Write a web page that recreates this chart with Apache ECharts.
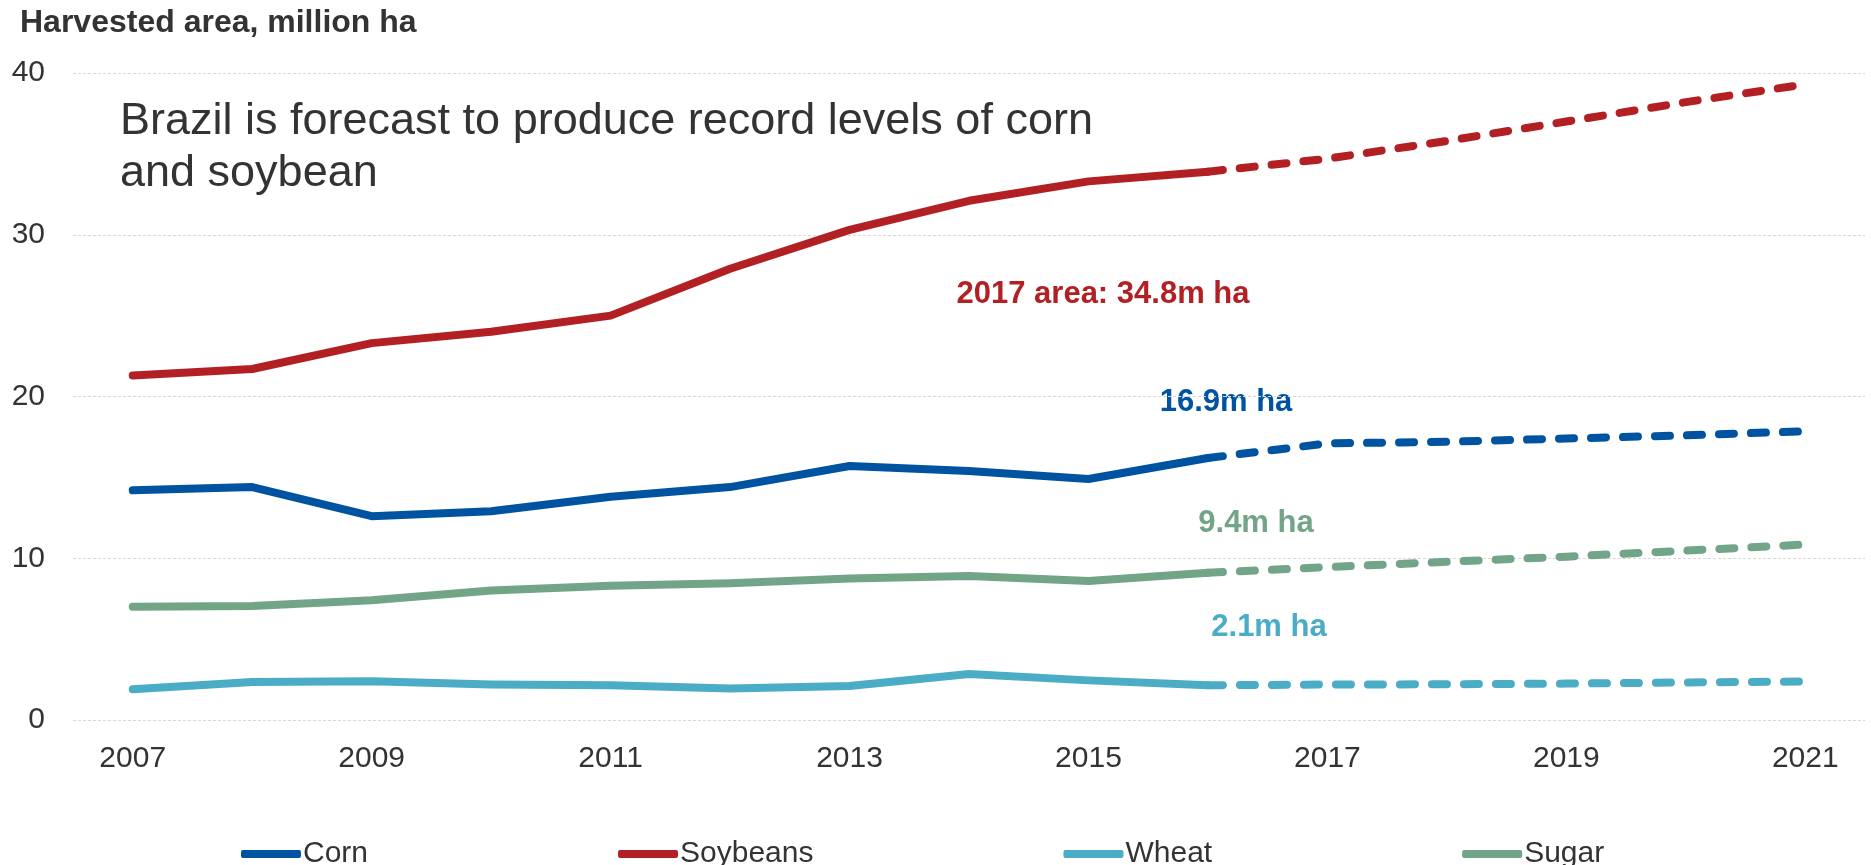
<!DOCTYPE html>
<html>
<head>
<meta charset="utf-8">
<script src="https://cdn.jsdelivr.net/npm/echarts@6/dist/echarts.min.js"></script>
<style>
html,body{margin:0;padding:0;background:#fff;}
#chart{width:1871px;height:865px;}
</style>
</head>
<body>
<div id="chart"></div>
<script>
// ---- data ----
const years = ['2007','2008','2009','2010','2011','2012','2013','2014','2015','2016','2017','2018','2019','2020','2021'];
// actual (2007-2016)
const cornActual     = [14.2, 14.4, 12.6, 12.9, 13.8, 14.4, 15.7, 15.4, 14.9, 16.2];
const soyActual      = [21.3, 21.7, 23.3, 24.0, 25.0, 27.9, 30.3, 32.1, 33.3, 33.9];
const wheatActual    = [1.9, 2.35, 2.4, 2.2, 2.15, 1.95, 2.1, 2.85, 2.45, 2.15];
const sugarActual    = [7.0, 7.05, 7.4, 8.0, 8.3, 8.45, 8.75, 8.9, 8.6, 9.1];
// forecast (2016-2021)
const cornForecast   = [16.2, 17.1, 17.2, 17.4, 17.6, 17.85];
const soyForecast    = [33.9, 34.7, 35.8, 37.0, 38.2, 39.3];
const wheatForecast  = [2.15, 2.19, 2.21, 2.25, 2.32, 2.38];
const sugarForecast  = [9.1, 9.45, 9.78, 10.1, 10.47, 10.85];
const seriesNames = ['Corn','Soybeans','Wheat','Sugar'];
const yTicks = {min: 0, max: 40, step: 10};
const yAxisTitle = 'Harvested area, million ha';
const headline = ['Brazil is forecast to produce record levels of corn', 'and soybean'];
const notes = ['2017 area: 34.8m ha', '16.9m ha', '9.4m ha', '2.1m ha'];

// ---- helpers ----
const colors = {Corn:'#0053A0', Soybeans:'#B22024', Wheat:'#4BACC6', Sugar:'#72A488'};
const txt = '#333333';
const FONT = '"Liberation Sans", Arial, sans-serif';
const breakIdx = years.indexOf('2016');
function actualData(arr){ return years.map((y,i)=> i < arr.length ? arr[i] : null); }
function forecastData(arr){ return years.map((y,i)=> i >= breakIdx ? arr[i-breakIdx] : null); }

const pairs = [
  ['Corn', cornActual, cornForecast],
  ['Soybeans', soyActual, soyForecast],
  ['Wheat', wheatActual, wheatForecast],
  ['Sugar', sugarActual, sugarForecast]
];
const series = [];
pairs.forEach(([name, a, f]) => {
  series.push({
    name, type:'line', data: actualData(a), symbol:'none', smooth:false,
    lineStyle:{color:colors[name], width:8, cap:'round', join:'round'},
    itemStyle:{color:colors[name]}, z:3
  });
});
pairs.forEach(([name, a, f]) => {
  series.push({
    name, type:'line', data: forecastData(f), symbol:'none', smooth:false,
    lineStyle:{color:colors[name], width:8, type:[15,17], cap:'round', join:'round'},
    itemStyle:{color:colors[name]}, z:2
  });
});

const chart = echarts.init(document.getElementById('chart'), null, {renderer:'canvas'});
chart.setOption({
  animation:false,
  backgroundColor:'#ffffff',
  grid:{left:73, right:6, top:73, bottom:145, containLabel:false},
  xAxis:{
    type:'category', data:years, boundaryGap:true,
    axisLine:{show:false}, axisTick:{show:false},
    axisLabel:{interval:1, color:txt, fontSize:30, fontFamily:FONT, margin:24}
  },
  yAxis:{
    type:'value', min:yTicks.min, max:yTicks.max, interval:yTicks.step,
    axisLine:{show:false}, axisTick:{show:false},
    axisLabel:{color:txt, fontSize:30, fontFamily:FONT, margin:28},
    splitLine:{show:true, lineStyle:{color:'#d9d9d9', width:1, type:[3,2]}}
  },
  legend:{
    data: seriesNames.map(n=>({name:n, icon:'roundRect', itemStyle:{color:colors[n]}})),
    left:236, top:834, itemWidth:60, itemHeight:8, itemGap:250,
    textStyle:{color:txt, fontSize:30, fontFamily:FONT, padding:[0,0,0,-3]}
  },
  graphic:[
    {type:'text', left:20, top:7, style:{text:yAxisTitle, fill:txt, font:'bold 32px ' + FONT}},
    {type:'text', x:120, y:122, style:{text:headline[0], fill:txt, font:'45px ' + FONT, verticalAlign:'middle'}},
    {type:'text', x:120, y:174, style:{text:headline[1], fill:txt, font:'45px ' + FONT, verticalAlign:'middle'}},
    {type:'text', x:1103, y:294, style:{text:notes[0], fill:colors.Soybeans, font:'bold 31px ' + FONT, align:'center', verticalAlign:'middle'}},
    {type:'text', x:1226, y:402, style:{text:notes[1], fill:colors.Corn, font:'bold 31px ' + FONT, align:'center', verticalAlign:'middle'}},
    {type:'text', x:1256, y:523, style:{text:notes[2], fill:colors.Sugar, font:'bold 31px ' + FONT, align:'center', verticalAlign:'middle'}},
    {type:'text', x:1269, y:627, style:{text:notes[3], fill:colors.Wheat, font:'bold 31px ' + FONT, align:'center', verticalAlign:'middle'}}
  ],
  series
});
</script>
</body>
</html>
